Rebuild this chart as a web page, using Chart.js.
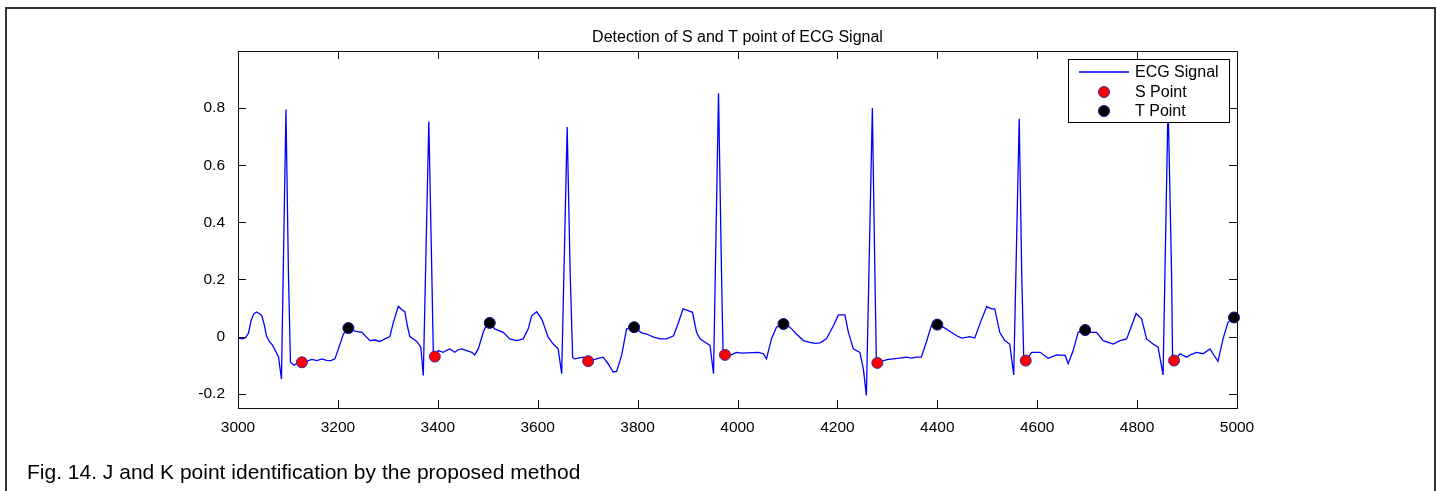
<!DOCTYPE html>
<html>
<head>
<meta charset="utf-8">
<script src="https://cdn.jsdelivr.net/npm/chart.js@4.4.1/dist/chart.umd.min.js"></script>
<style>
  html, body { margin: 0; padding: 0; background: #fff; }
  #wrap { width: 1437px; height: 491px; position: relative; }
</style>
</head>
<body>
<div id="wrap"><canvas id="ecgChart" width="1437" height="491"></canvas></div>
<script>
// ECG samples
const ecgX = [3000,3008,3015,3021,3026,3031,3037,3043,3048,3053,3057,3063,3069,3075,3081,3087,3096,3101,3105,3112,3120,3128,3138,3148,3158,3168,3177,3186,3194,3201,3211,3221,
  3234,3248,3264,3274,3284,3294,3304,3311,3321,3328,3334,3339,3344,3358,3366,3371,3382,3388,3391,3394,3401,3411,3418,3424,3434,3441,3448,3458,3468,3474,3481,3491,3498,3504,
  3514,3531,3544,3558,3571,3581,3588,3598,3608,3621,3631,3641,3648,3659,3665,3670,3674,3691,3701,3718,3731,3741,3751,3758,3768,3778,3793,
  3808,3818,3832,3845,3858,3872,3882,3891,3901,3910,3918,3925,3935,3945,3952,3962,3968,3971,3975,3985,3998,4008,4018,4030,4042,4052,4058,4068,4078,4092,
  4105,4118,4132,4145,4155,4165,4178,4192,4202,4215,4222,4232,4245,4252,4258,4270,4275,4278,4280,4292,4302,4312,4325,4338,4348,4358,4368,4378,4388,4400,
  4412,4428,4439,4449,4465,4475,4489,4499,4509,4515,4525,4535,4545,4553,4564,4569,4573,4577,4589,4606,4622,4639,4656,4662,4672,4682,4696,
  4706,4719,4732,4752,4766,4779,4789,4798,4809,4819,4832,4842,4852,4862,4869,4871,4874,4886,4899,4909,4919,4932,4946,4952,4962,4972,4982,4994,4998];
const ecgY = [-0.005,-0.008,-0.004,0.012,0.055,0.078,0.086,0.08,0.072,0.038,0.002,-0.018,-0.03,-0.05,-0.07,-0.148,0.795,0.22,-0.09,-0.1,-0.092,-0.09,-0.086,-0.08,-0.084,-0.078,-0.083,-0.084,-0.078,-0.043,0.009,0.03,
  0.019,0.015,-0.014,-0.012,-0.017,-0.008,0.0,0.05,0.106,0.094,0.087,0.038,0.0,-0.017,-0.037,-0.136,0.753,0.224,-0.055,-0.07,-0.049,-0.055,-0.048,-0.043,-0.055,-0.046,-0.043,-0.049,-0.055,-0.064,-0.043,0.015,0.044,0.048,
  0.027,0.015,-0.008,-0.014,-0.008,0.027,0.073,0.087,0.062,-0.002,-0.026,-0.043,-0.13,0.734,0.224,-0.072,-0.078,-0.072,-0.086,-0.078,-0.072,-0.095,-0.124,-0.122,-0.066,0.027,0.033,
  0.013,0.009,-0.002,-0.008,-0.008,0.003,0.05,0.097,0.091,0.085,0.015,-0.008,-0.02,-0.031,-0.13,0.852,0.224,-0.05,-0.064,-0.066,-0.055,-0.058,-0.057,-0.056,-0.055,-0.06,-0.078,-0.008,0.033,0.044,
  0.033,0.009,-0.014,-0.02,-0.024,-0.022,-0.008,0.038,0.076,0.076,0.015,-0.043,-0.055,-0.113,-0.206,0.80,0.224,-0.078,-0.092,-0.084,-0.08,-0.078,-0.075,-0.072,-0.075,-0.072,-0.072,-0.02,0.038,0.042,
  0.033,0.015,0.003,-0.005,0.0,-0.005,0.062,0.105,0.097,0.097,0.015,-0.014,-0.026,-0.134,0.763,0.224,-0.072,-0.084,-0.055,-0.055,-0.076,-0.064,-0.066,-0.095,-0.049,0.015,0.023,
  0.015,0.015,-0.014,-0.026,-0.014,-0.008,0.038,0.081,0.062,-0.008,-0.026,-0.037,-0.134,0.82,0.224,-0.072,-0.084,-0.06,-0.072,-0.062,-0.055,-0.06,-0.043,-0.06,-0.087,-0.008,0.05,0.067,0.068];

// detected points
const sPointX = [3128, 3394, 3701, 3975, 4280, 4577, 4874];
const sPointY = [-0.09, -0.07, -0.086, -0.064, -0.092, -0.084, -0.084];
const tPointX = [3221, 3504, 3793, 4092, 4400, 4696, 4994];
const tPointY = [0.03, 0.048, 0.033, 0.044, 0.042, 0.023, 0.067];

const xTicks = [3000,3200,3400,3600,3800,4000,4200,4400,4600,4800,5000];
const yTicks = [-0.2, 0, 0.2, 0.4, 0.6, 0.8];

const titleText = 'Detection of S and T point of ECG Signal';
const captionText = 'Fig. 14. J and K point identification by the proposed method';
const legendLabels = ['ECG Signal', 'S Point', 'T Point'];

const FONT = '"Liberation Sans", Arial, Helvetica, sans-serif';
Chart.defaults.font.family = FONT;
Chart.defaults.color = '#000';

const toPts = (xs, ys) => xs.map((x, i) => ({ x: x, y: ys[i] }));

// box, inward ticks, legend, title, caption
const figurePlugin = {
  id: 'figure',
  afterDraw(chart) {
    const ctx = chart.ctx;
    const a = chart.chartArea;
    const xs = chart.scales.x, ys = chart.scales.y;
    ctx.save();

    // axes box
    ctx.strokeStyle = '#111';
    ctx.lineWidth = 1;
    ctx.strokeRect(Math.round(a.left) + 0.5, Math.round(a.top) + 0.5,
      Math.round(a.right - a.left), Math.round(a.bottom - a.top));

    // inward ticks on all four sides
    const tl = 8;
    ctx.beginPath();
    xTicks.forEach(v => {
      const px = Math.round(xs.getPixelForValue(v)) + 0.5;
      ctx.moveTo(px, a.bottom); ctx.lineTo(px, a.bottom - tl);
      ctx.moveTo(px, a.top); ctx.lineTo(px, a.top + tl);
    });
    yTicks.forEach(v => {
      const py = Math.round(ys.getPixelForValue(v)) + 0.5;
      ctx.moveTo(a.left, py); ctx.lineTo(a.left + tl, py);
      ctx.moveTo(a.right, py); ctx.lineTo(a.right - tl, py);
    });
    ctx.stroke();

    // legend
    const lx = 1068, ly = 59, lw = 161, lh = 63;
    ctx.fillStyle = '#fff';
    ctx.fillRect(lx, ly, lw, lh);
    ctx.strokeStyle = '#000';
    ctx.strokeRect(lx + 0.5, ly + 0.5, lw, lh);
    const rows = [72, 92, 111];
    const ds = chart.data.datasets;
    ctx.strokeStyle = ds[0].borderColor;
    ctx.lineWidth = ds[0].borderWidth;
    ctx.beginPath();
    ctx.moveTo(1079, rows[0]); ctx.lineTo(1129, rows[0]);
    ctx.stroke();
    [1, 2].forEach(i => {
      ctx.beginPath();
      ctx.arc(1104, rows[i], ds[i].pointRadius, 0, Math.PI * 2);
      ctx.fillStyle = ds[i].pointBackgroundColor;
      ctx.fill();
      ctx.lineWidth = 1;
      ctx.strokeStyle = ds[i].pointBorderColor;
      ctx.stroke();
    });
    ctx.fillStyle = '#000';
    ctx.font = '16px ' + FONT;
    ctx.textAlign = 'left';
    ctx.textBaseline = 'middle';
    legendLabels.forEach((t, i) => ctx.fillText(t, 1135, rows[i] + 1));

    // title
    ctx.textAlign = 'center';
    ctx.textBaseline = 'alphabetic';
    ctx.fillText(titleText, (a.left + a.right) / 2, 42);

    // caption
    ctx.font = '21px ' + FONT;
    ctx.textAlign = 'left';
    ctx.fillText(captionText, 27, 479);

    // figure border
    ctx.strokeStyle = '#333';
    ctx.lineWidth = 2;
    ctx.strokeRect(6, 8, 1429, 500);
    ctx.restore();
  }
};

new Chart(document.getElementById('ecgChart'), {
  type: 'line',
  data: {
    datasets: [
      {
        label: 'ECG Signal',
        data: toPts(ecgX, ecgY),
        borderColor: '#0000ff',
        borderWidth: 1.3,
        pointRadius: 0,
        tension: 0,
        order: 3
      },
      {
        label: 'S Point',
        data: toPts(sPointX, sPointY),
        showLine: false,
        pointRadius: 5.5,
        pointBackgroundColor: '#ff0000',
        pointBorderColor: '#3a2aa0',
        pointBorderWidth: 1,
        clip: false,
        order: 2
      },
      {
        label: 'T Point',
        data: toPts(tPointX, tPointY),
        showLine: false,
        pointRadius: 5.5,
        pointBackgroundColor: '#000000',
        pointBorderColor: '#10108a',
        pointBorderWidth: 1,
        clip: false,
        order: 1
      }
    ]
  },
  options: {
    responsive: false,
    animation: false,
    events: [],
    layout: { padding: { top: 51, right: 200, left: 0, bottom: 0 } },
    plugins: { legend: { display: false }, title: { display: false }, tooltip: { enabled: false } },
    scales: {
      x: {
        type: 'linear',
        min: 3000,
        max: 5000,
        grid: { display: false },
        border: { display: false },
        afterBuildTicks: s => { s.ticks = xTicks.map(v => ({ value: v })); },
        afterFit: s => { s.height = 83; },
        ticks: { padding: 2, maxRotation: 0, autoSkip: false, font: { size: 15.5 }, color: '#000',
          callback: v => String(v) }
      },
      y: {
        min: -0.25,
        max: 1,
        grid: { display: false },
        border: { display: false },
        afterBuildTicks: s => { s.ticks = yTicks.map(v => ({ value: v })); },
        afterFit: s => { s.width = 238; },
        ticks: { padding: 5, font: { size: 15.5 }, color: '#000',
          callback: v => String(Math.round(v * 10) / 10) }
      }
    }
  },
  plugins: [figurePlugin]
});
</script>
</body>
</html>
